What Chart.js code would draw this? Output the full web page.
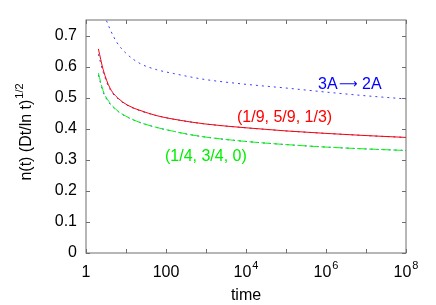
<!DOCTYPE html>
<html>
<head>
<meta charset="utf-8">
<script src="https://cdn.jsdelivr.net/npm/chart.js@4/dist/chart.umd.min.js"></script>
<style>
  body { margin: 0; background: #fff; }
</style>
</head>
<body>
<canvas id="grafico" width="436" height="305"></canvas>
<script>
// valores
var tBlue = [2.8, 3.2, 4, 5.9, 10, 22.4, 58.9, 151, 398, 1e3, 1e4, 1e5, 1e6, 1e7, 1e8];
var blueTop = [0.765, 0.75, 0.72, 0.678, 0.643, 0.610, 0.590, 0.578, 0.567, 0.558, 0.543, 0.531, 0.518, 0.506, 0.496];

var tData = [2.04, 2.69, 3.98, 7.08, 12.6, 22.4, 58.9, 151, 398, 1e3, 1e4, 1e5, 1e6, 1e7, 1e8];
var red = [0.657, 0.590, 0.531, 0.493, 0.472, 0.459, 0.442, 0.431, 0.422, 0.415, 0.403, 0.393, 0.385, 0.378, 0.372];
var redTeo = [0.640, 0.582, 0.527, 0.491, 0.471, 0.458, 0.442, 0.431, 0.422, 0.415, 0.403, 0.393, 0.385, 0.378, 0.372];
var green = [0.579, 0.522, 0.483, 0.452, 0.434, 0.420, 0.404, 0.392, 0.381, 0.373, 0.359, 0.349, 0.341, 0.335, 0.330];
var greenTeo = [0.573, 0.518, 0.480, 0.451, 0.433, 0.420, 0.404, 0.392, 0.381, 0.373, 0.359, 0.349, 0.341, 0.335, 0.330];

var yTicks = [0, 0.1, 0.2, 0.3, 0.4, 0.5, 0.6, 0.7];
var xTicks = [1, 10, 100, 1e3, 1e4, 1e5, 1e6, 1e7, 1e8];
var xLabels = [[1, '1', ''], [100, '100', ''], [1e4, '10', '4'], [1e6, '10', '6'], [1e8, '10', '8']];

var FUENTE = '"Liberation Sans", Arial, Helvetica, sans-serif';

function puntos(ts, vals) {
    return ts.map(function (t, i) { return { x: t, y: vals[i] }; });
}

// marco, ticks hacia adentro, etiquetas y textos
var decoracion = {
    id: 'decoracion',
    afterDraw: function (chart) {
        var ctx = chart.ctx;
        var a = chart.chartArea;
        var xs = chart.scales.x, ys = chart.scales.y;
        ctx.save();
        ctx.strokeStyle = '#6e6e6e';
        ctx.lineWidth = 1;
        ctx.strokeRect(a.left, a.top, a.right - a.left, a.bottom - a.top);
        ctx.beginPath();
        xTicks.forEach(function (v) {
            var px = Math.round(xs.getPixelForValue(v)) + 0.5;
            ctx.moveTo(px, a.bottom); ctx.lineTo(px, a.bottom - 4);
            ctx.moveTo(px, a.top); ctx.lineTo(px, a.top + 4);
        });
        yTicks.forEach(function (v) {
            var py = Math.round(ys.getPixelForValue(v)) + 0.5;
            ctx.moveTo(a.left, py); ctx.lineTo(a.left + 4, py);
            ctx.moveTo(a.right, py); ctx.lineTo(a.right - 4, py);
        });
        ctx.stroke();

        // etiquetas del eje x
        ctx.fillStyle = '#000';
        ctx.textBaseline = 'alphabetic';
        xLabels.forEach(function (l) {
            var px = xs.getPixelForValue(l[0]);
            ctx.font = '16px ' + FUENTE;
            var w1 = ctx.measureText(l[1]).width;
            ctx.font = '11px ' + FUENTE;
            var w2 = l[2] ? ctx.measureText(l[2]).width + 1 : 0;
            var x0 = px - (w1 + w2) / 2;
            ctx.textAlign = 'left';
            ctx.font = '16px ' + FUENTE;
            ctx.fillText(l[1], x0, 277);
            if (l[2]) {
                ctx.font = '11px ' + FUENTE;
                ctx.fillText(l[2], x0 + w1 + 1, 269);
            }
        });
        ctx.font = '16px ' + FUENTE;
        ctx.textAlign = 'center';
        ctx.fillText('time', xs.getPixelForValue(1e4), 300);

        // titulo eje y
        ctx.save();
        ctx.translate(31, 132);
        ctx.rotate(-Math.PI / 2);
        ctx.font = '16px ' + FUENTE;
        var t1 = 'n(t) (Dt/ln t)';
        var w = ctx.measureText(t1).width;
        ctx.font = '11px ' + FUENTE;
        var ws = ctx.measureText('1/2').width;
        var x0 = -(w + ws + 1) / 2;
        ctx.textAlign = 'left';
        ctx.font = '16px ' + FUENTE;
        ctx.fillText(t1, x0, 0);
        ctx.font = '11px ' + FUENTE;
        ctx.fillText('1/2', x0 + w + 1, -8);
        ctx.restore();

        // rotulos de las curvas
        ctx.textAlign = 'left';
        ctx.fillStyle = '#0000ff';
        ctx.font = '16px ' + FUENTE;
        ctx.fillText('3A', 318, 89);
        ctx.fillText('2A', 362, 89);
        ctx.font = '13px "DejaVu Sans", sans-serif';
        ctx.fillText('\u27F6', 339, 88);
        ctx.font = '16px ' + FUENTE;
        ctx.fillStyle = '#ff0000';
        ctx.fillText('(1/9, 5/9, 1/3)', 237, 122);
        ctx.fillStyle = '#00ee00';
        ctx.fillText('(1/4, 3/4, 0)', 165, 161);
        ctx.restore();
    }
};

var config = {
    type: 'line',
    data: {
        datasets: [{
            data: puntos(tData, red),
            borderColor: '#ff0000',
            borderWidth: 1,
            pointRadius: 0,
            cubicInterpolationMode: 'monotone'
        }, {
            data: puntos(tData, green),
            borderColor: '#00ff00',
            borderWidth: 1,
            borderDash: [9, 3],
            pointRadius: 0,
            cubicInterpolationMode: 'monotone'
        }, {
            data: puntos(tData, redTeo),
            borderColor: '#3a3aff',
            borderWidth: 1,
            borderDash: [2, 4],
            pointRadius: 0,
            cubicInterpolationMode: 'monotone'
        }, {
            data: puntos(tData, greenTeo),
            borderColor: '#3a3aff',
            borderWidth: 1,
            borderDash: [2, 4],
            pointRadius: 0,
            cubicInterpolationMode: 'monotone'
        }, {
            data: puntos(tBlue, blueTop),
            borderColor: '#3a3aff',
            borderWidth: 1,
            borderDash: [2, 4],
            pointRadius: 0,
            cubicInterpolationMode: 'monotone'
        }]
    },
    options: {
        responsive: false,
        animation: false,
        devicePixelRatio: 1,
        layout: { padding: { top: 20, right: 30, bottom: 52, left: 0 } },
        plugins: { legend: { display: false }, tooltip: { enabled: false } },
        scales: {
            x: {
                type: 'logarithmic',
                min: 1,
                max: 1e8,
                display: false
            },
            y: {
                min: 0,
                max: 0.75,
                afterBuildTicks: function (scale) {
                    scale.ticks = yTicks.map(function (v) { return { value: v }; });
                },
                afterFit: function (scale) { scale.width = 86; },
                ticks: {
                    padding: 9,
                    color: '#000',
                    font: { family: FUENTE, size: 16 },
                    callback: function (v) { return v === 0 ? '0' : v.toFixed(1); }
                },
                grid: { display: false, drawTicks: false },
                border: { display: false }
            }
        }
    },
    plugins: [decoracion]
};

var grafico = new Chart(document.getElementById('grafico'), config);
</script>
</body>
</html>
